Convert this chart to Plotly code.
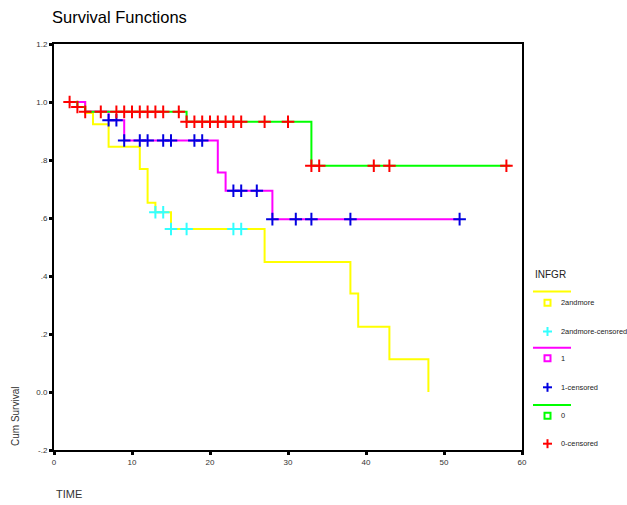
import plotly.graph_objects as go

# ---- data ----
# group "2andmore"
t_more = [2, 4, 5, 7, 11, 12, 13, 15, 27, 38, 39, 43, 48]
s_more = [1.0, 0.962, 0.923, 0.846, 0.769, 0.653, 0.62, 0.562, 0.448, 0.34, 0.225, 0.113, 0.0]
tc_more = [13, 14, 15, 17, 23, 24]
sc_more = [0.62, 0.62, 0.562, 0.562, 0.562, 0.562]

# group "1"
t_one = [2, 4, 7, 9, 21, 22, 28, 52]
s_one = [1.0, 0.967, 0.937, 0.867, 0.757, 0.694, 0.596, 0.596]
tc_one = [7, 8, 9, 11, 12, 14, 15, 18, 19, 23, 24, 26, 28, 31, 33, 38, 52]
sc_one = [0.937, 0.937, 0.867, 0.867, 0.867, 0.867, 0.867, 0.867, 0.867,
          0.694, 0.694, 0.694, 0.596, 0.596, 0.596, 0.596, 0.596]

# group "0"
t_zero = [2, 3, 4, 17, 33, 58.5]
s_zero = [1.0, 0.983, 0.966, 0.932, 0.78, 0.78]
tc_zero = [2, 3, 4, 6, 8, 9, 10, 11, 12, 13, 14, 16, 17, 18, 19, 20, 21, 22, 23, 24,
           27, 30, 33, 34, 41, 43, 58]
sc_zero = [1.0, 0.983] + [0.966] * 10 + [0.932] * 10 + [0.78] * 5

y_ticks = [-0.2, 0.0, 0.2, 0.4, 0.6, 0.8, 1.0, 1.2]
y_tick_labels = ["-.2", "0.0", ".2", ".4", ".6", ".8", "1.0", "1.2"]
x_ticks = [0, 10, 20, 30, 40, 50, 60]

legend_labels = ["2andmore", "2andmore-censored", "1", "1-censored", "0", "0-censored"]

YEL = "#FFFF00"
CYA = "#33FFFF"
MAG = "#FF00FF"
BLU = "#0000E0"
GRN = "#00FF00"
RED = "#FF0000"

W, H = 627, 505
L, R, T, B = 54, 522, 44, 450


def px(x):
    return (x - L) / (R - L)


def py(y):
    return (B - y) / (B - T)


fig = go.Figure()


def step(t, s, color):
    fig.add_trace(go.Scatter(x=t, y=s, mode="lines", line=dict(color=color, width=2, shape="hv"),
                             showlegend=False, hoverinfo="skip"))


def cens(t, s, color):
    fig.add_trace(go.Scatter(x=t, y=s, mode="markers",
                             marker=dict(symbol="cross-thin", size=9, line=dict(color=color, width=2)),
                             showlegend=False, hoverinfo="skip"))


step(t_more, s_more, YEL)
cens(tc_more, sc_more, CYA)
step(t_one, s_one, MAG)
cens(tc_one, sc_one, BLU)
step(t_zero, s_zero, GRN)
cens(tc_zero, sc_zero, RED)

shapes = []
annotations = []

# legend
lx0, lx1 = 533, 571
sqx = 547.5
txt_x = 559
items = [
    ("line", 291.5, YEL, None),
    ("square", 302.7, YEL, legend_labels[0]),
    ("cross", 331.5, CYA, legend_labels[1]),
    ("line", 347.7, MAG, None),
    ("square", 358.3, MAG, legend_labels[2]),
    ("cross", 387.3, BLU, legend_labels[3]),
    ("line", 405, GRN, None),
    ("square", 415.7, GRN, legend_labels[4]),
    ("cross", 443.7, RED, legend_labels[5]),
]
for kind, yy, col, lab in items:
    if kind == "line":
        shapes.append(dict(type="line", xref="paper", yref="paper",
                           x0=px(lx0), x1=px(lx1), y0=py(yy), y1=py(yy),
                           line=dict(color=col, width=2)))
    elif kind == "square":
        shapes.append(dict(type="rect", xref="paper", yref="paper",
                           x0=px(sqx - 3), x1=px(sqx + 3), y0=py(yy - 3), y1=py(yy + 3),
                           line=dict(color=col, width=2)))
    else:
        shapes.append(dict(type="line", xref="paper", yref="paper",
                           x0=px(sqx - 4.5), x1=px(sqx + 4.5), y0=py(yy), y1=py(yy),
                           line=dict(color=col, width=2)))
        shapes.append(dict(type="line", xref="paper", yref="paper",
                           x0=px(sqx), x1=px(sqx), y0=py(yy - 4.5), y1=py(yy + 4.5),
                           line=dict(color=col, width=2)))
    if lab is not None:
        annotations.append(dict(text=lab, xref="paper", yref="paper", x=px(txt_x), y=py(yy),
                                xanchor="left", yanchor="middle", showarrow=False,
                                font=dict(family="Liberation Sans, Arial", size=7.4, color="#222")))

annotations.append(dict(text="INFGR", xref="paper", yref="paper", x=px(533), y=py(274),
                        xanchor="left", yanchor="middle", showarrow=False,
                        font=dict(family="Liberation Sans, Arial", size=10, color="#222")))
annotations.append(dict(text="Cum Survival", xref="paper", yref="paper", x=px(15), y=py(417),
                        xanchor="center", yanchor="middle", textangle=-90, showarrow=False,
                        font=dict(family="Liberation Sans, Arial", size=10, color="#333")))
annotations.append(dict(text="TIME", xref="paper", yref="paper", x=px(54), y=py(494),
                        xanchor="left", yanchor="middle", showarrow=False,
                        font=dict(family="Liberation Sans, Arial", size=11, color="#333")))

fig.update_layout(
    width=W, height=H,
    margin=dict(l=L, r=W - R, t=T, b=H - B, pad=0),
    paper_bgcolor="white", plot_bgcolor="white",
    showlegend=False,
    title=dict(text="Survival Functions", x=52 / W, xanchor="left", y=1 - 17 / H, yanchor="middle",
               font=dict(family="Liberation Sans, Arial", size=16.5, color="#000")),
    shapes=shapes, annotations=annotations,
    xaxis=dict(range=[0, 60], tickvals=x_ticks, ticks="outside", ticklen=3, tickwidth=3,
               tickcolor="black", showline=True, linecolor="black", linewidth=2, mirror=True,
               showgrid=False, zeroline=False,
               tickfont=dict(family="Liberation Sans, Arial", size=8, color="#333")),
    yaxis=dict(range=[-0.2, 1.2], tickvals=y_ticks, ticktext=y_tick_labels, ticks="outside",
               ticklen=3, tickwidth=3, tickcolor="black", showline=True, linecolor="black",
               linewidth=2, mirror=True, showgrid=False, zeroline=False,
               tickfont=dict(family="Liberation Sans, Arial", size=8, color="#333")),
)

fig.write_html("out.html")
